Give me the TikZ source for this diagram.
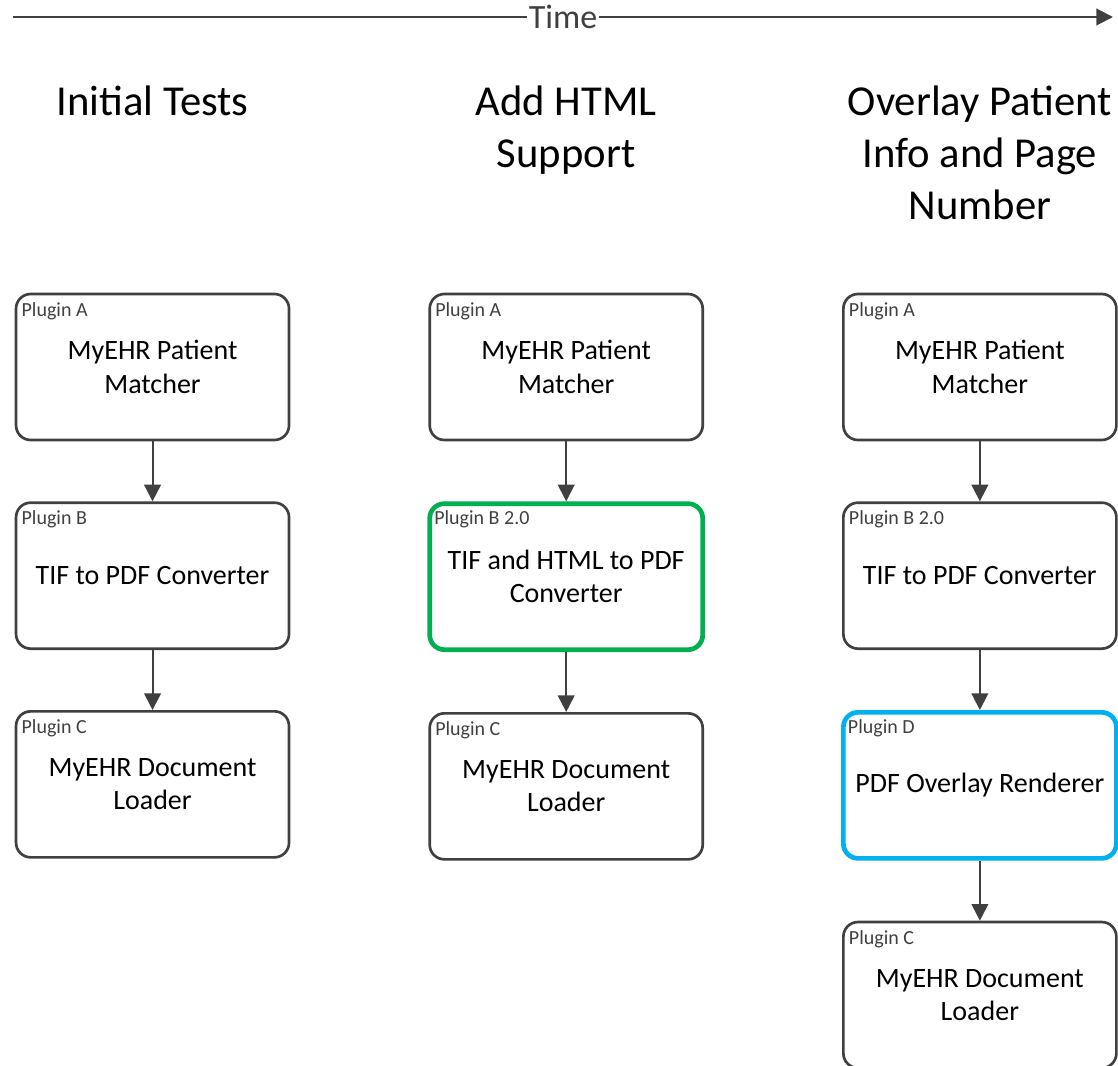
\documentclass[tikz,border=0pt]{standalone}
\usepackage{fontspec}
\setmainfont{Carlito}
\usepackage{tikz}
\usetikzlibrary{positioning,arrows.meta}

\definecolor{edgegray}{HTML}{404040}
\definecolor{newgreen}{HTML}{00B050}
\definecolor{newblue}{HTML}{00B0F0}

\tikzset{
  plugin/.style={draw=edgegray, line width=2pt, rounded corners=11pt,
    minimum width=204.75pt, minimum height=109.5pt, align=center,
    inner sep=2pt, font=\fontsize{21}{25}\selectfont},
  changed/.style={line width=3.5pt},
  tag/.style={anchor=north west, inner sep=0pt, xshift=5pt, yshift=-7pt,
    text=edgegray, font=\fontsize{15}{18}\selectfont},
  stage/.style={anchor=north, align=center, inner sep=0pt,
    font=\fontsize{32}{39}\selectfont},
  flow/.style={draw=edgegray, line width=1.5pt,
    -{Triangle[width=12.5pt,length=12.5pt]}},
}

\begin{document}
\begin{tikzpicture}[node distance=45pt and 103.5pt]
  \useasboundingbox (0,0) rectangle (838.5pt,-798.75pt);

  % Time axis
  \coordinate (t0) at (9.75pt,-12.75pt);
  \coordinate (t1) at (834.75pt,-12.75pt);
  \draw[flow] (t0) -- node[fill=white, inner sep=1pt, text=edgegray,
    font=\fontsize{25.5}{30}\selectfont] (time) {Time} (t1);

  % Initial Tests
  \node[plugin]               (A1) at (114.4pt,-275.25pt) {MyEHR Patient\\Matcher};
  \node[plugin, below=of A1]  (B1) {TIF to PDF Converter};
  \node[plugin, below=of B1]  (C1) {MyEHR Document\\Loader};

  % Add HTML Support
  \node[plugin, right=of A1]  (A2) {MyEHR Patient\\Matcher};
  \node[plugin, changed, draw=newgreen, below=of A2] (B2) {TIF and HTML to PDF\\Converter};
  \node[plugin, below=of B2]  (C2) {MyEHR Document\\Loader};

  % Overlay Patient Info and Page Number
  \node[plugin, right=of A2]  (A3) {MyEHR Patient\\Matcher};
  \node[plugin, below=of A3]  (B3) {TIF to PDF Converter};
  \node[plugin, changed, draw=newblue, below=of B3] (D3) {PDF Overlay Renderer};
  \node[plugin, below=of D3]  (C3) {MyEHR Document\\Loader};

  % Stage titles
  \coordinate (ttop) at (0,-64.5pt);
  \node[stage] (s1) at (A1 |- ttop) {Initial Tests};
  \node[stage] (s2) at (A2 |- ttop) {Add HTML\\Support};
  \node[stage] (s3) at (A3 |- ttop) {Overlay Patient\\Info and Page\\Number};

  % Plugin tags
  \node[tag] (tA1) at (A1.north west) {Plugin A};
  \node[tag] (tB1) at (B1.north west) {Plugin B};
  \node[tag] (tC1) at (C1.north west) {Plugin C};
  \node[tag] (tA2) at (A2.north west) {Plugin A};
  \node[tag] (tB2) at (B2.north west) {Plugin B 2.0};
  \node[tag] (tC2) at (C2.north west) {Plugin C};
  \node[tag] (tA3) at (A3.north west) {Plugin A};
  \node[tag] (tB3) at (B3.north west) {Plugin B 2.0};
  \node[tag] (tD3) at (D3.north west) {Plugin D};
  \node[tag] (tC3) at (C3.north west) {Plugin C};

  % Connect the nodes
  \draw[flow] (A1) -- (B1);
  \draw[flow] (B1) -- (C1);
  \draw[flow] (A2) -- (B2);
  \draw[flow] (B2) -- (C2);
  \draw[flow] (A3) -- (B3);
  \draw[flow] (B3) -- (D3);
  \draw[flow] (D3) -- (C3);
\end{tikzpicture}
\end{document}
